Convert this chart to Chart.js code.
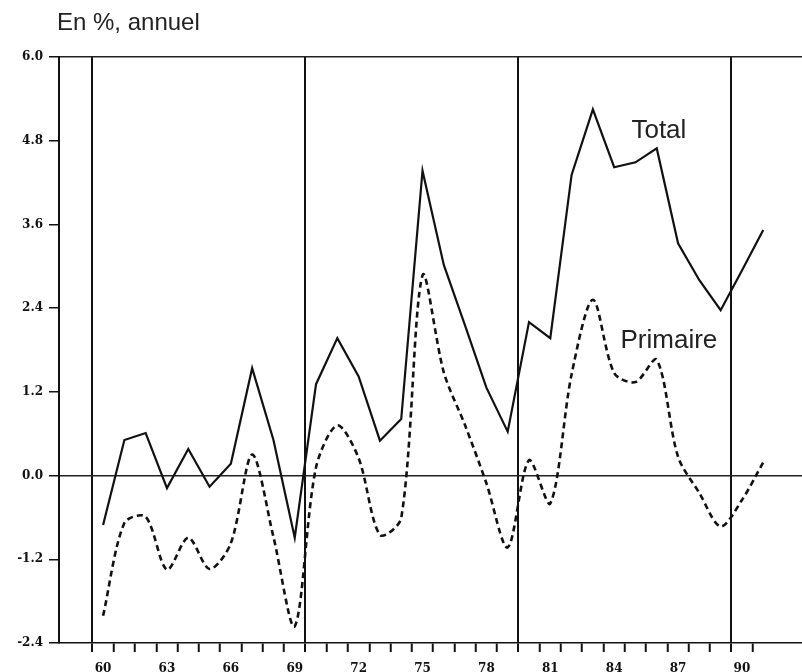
<!DOCTYPE html>
<html>
<head>
<meta charset="utf-8">
<script src="https://cdn.jsdelivr.net/npm/chart.js@4"></script>
<style>
  body { margin: 0; background: #fff; }
  #wrap { position: relative; width: 802px; height: 672px; }
</style>
</head>
<body>
<div id="wrap"><canvas id="myChart"></canvas></div>
<script>
const years = [1960, 1961, 1962, 1963, 1964, 1965, 1966, 1967, 1968, 1969,
               1970, 1971, 1972, 1973, 1974, 1975, 1976, 1977, 1978, 1979,
               1980, 1981, 1982, 1983, 1984, 1985, 1986, 1987, 1988, 1989,
               1990, 1991];
const total = [-0.71, 0.51, 0.61, -0.18, 0.38, -0.16, 0.17, 1.54, 0.51, -0.89,
               1.31, 1.97, 1.42, 0.50, 0.81, 4.37, 3.02, 2.15, 1.26, 0.63,
               2.20, 1.97, 4.31, 5.25, 4.42, 4.49, 4.69, 3.33, 2.80, 2.37,
               2.94, 3.52];
const primaire = [-2.01, -0.68, -0.59, -1.35, -0.89, -1.34, -0.97, 0.30, -0.88, -2.16,
                  0.12, 0.72, 0.25, -0.85, -0.61, 2.87, 1.48, 0.72, -0.11, -1.03,
                  0.22, -0.40, 1.45, 2.52, 1.47, 1.34, 1.66, 0.27, -0.25, -0.73,
                  -0.35, 0.19];
const yTicks = [-2.4, -1.2, 0.0, 1.2, 2.4, 3.6, 4.8, 6.0];
const labelYears = [1960, 1963, 1966, 1969, 1972, 1975, 1978, 1981, 1984, 1987, 1990];
const decadeBreaks = [1959.5, 1969.5, 1979.5, 1989.5];

const ink = '#111';
const tickFont = { family: 'DejaVu Serif', size: 12, weight: 'bold' };

// tick marks sit between the years, labels sit on the years
function buildXTicks() {
    const marks = [];
    for (let y = years[0] - 0.5; y <= 1990.5; y += 1) marks.push(y);
    return marks.concat(labelYears).sort((a, b) => a - b);
}

const notes = {
    id: 'notes',
    afterDraw(chart) {
        const { ctx, scales } = chart;
        ctx.save();
        ctx.fillStyle = '#222';
        ctx.textBaseline = 'alphabetic';
        ctx.font = '24px "Liberation Sans", Arial, sans-serif';
        ctx.textAlign = 'left';
        ctx.fillText('En %, annuel', 57, 30);
        ctx.textAlign = 'center';
        ctx.font = '26px "Liberation Sans", Arial, sans-serif';
        ctx.fillText('Total', scales.x.getPixelForValue(1986.1), scales.y.getPixelForValue(4.84));
        ctx.font = '26px "Liberation Sans", Arial, sans-serif';
        ctx.fillText('Primaire', scales.x.getPixelForValue(1986.57), scales.y.getPixelForValue(1.83));
        ctx.restore();
    }
};

function makeChart() {
    const ctx = document.getElementById('myChart');

    new Chart(ctx, {
        type: 'line',
        data: {
            datasets: [{
                label: 'Total',
                data: years.map((y, i) => ({ x: y, y: total[i] })),
                borderColor: ink,
                borderWidth: 2.2,
                pointRadius: 0,
                tension: 0
            }, {
                label: 'Primaire',
                data: years.map((y, i) => ({ x: y, y: primaire[i] })),
                borderColor: ink,
                borderWidth: 2.6,
                borderDash: [6, 4],
                pointRadius: 0,
                tension: 0.3
            }]
        },
        plugins: [notes],
        options: {
            responsive: true,
            maintainAspectRatio: false,
            animation: false,
            layout: { padding: { top: 57, left: 0, right: 0, bottom: 0 } },
            plugins: {
                legend: { display: false },
                tooltip: { enabled: false }
            },
            scales: {
                x: {
                    type: 'linear',
                    min: 1957.93,
                    max: 1992.82,
                    afterBuildTicks: (scale) => {
                        scale.ticks = buildXTicks().map(v => ({ value: v }));
                    },
                    afterFit: (scale) => { scale.height = 29; },
                    ticks: {
                        autoSkip: false,
                        maxRotation: 0,
                        padding: 10,
                        color: ink,
                        font: tickFont,
                        callback: (v) => labelYears.includes(v) ? String(v).slice(2) : ''
                    },
                    grid: {
                        drawOnChartArea: true,
                        tickLength: 9,
                        lineWidth: (c) => decadeBreaks.includes(c.tick && c.tick.value) ? 2 : 1.5,
                        color: (c) => decadeBreaks.includes(c.tick && c.tick.value) ? ink : 'transparent',
                        tickColor: (c) => (c.tick && Number.isInteger(c.tick.value)) ? 'transparent' : ink,
                        tickWidth: 2
                    },
                    border: { display: true, color: ink, width: 1.5 }
                },
                y: {
                    min: -2.4,
                    max: 6.0,
                    afterBuildTicks: (scale) => {
                        scale.ticks = yTicks.map(v => ({ value: v }));
                    },
                    afterFit: (scale) => { scale.width = 59; },
                    ticks: {
                        padding: 6,
                        color: ink,
                        font: tickFont,
                        callback: (v) => v.toFixed(1)
                    },
                    grid: {
                        tickLength: 10,
                        lineWidth: 1.5,
                        color: (c) => {
                            const v = c.tick ? c.tick.value : NaN;
                            return (Math.abs(v) < 1e-6 || Math.abs(v - 6) < 1e-6) ? '#222' : 'transparent';
                        },
                        tickColor: ink,
                        tickWidth: 1.5
                    },
                    border: { display: true, color: ink, width: 2 }
                }
            }
        }
    });
}

makeChart();
</script>
</body>
</html>
